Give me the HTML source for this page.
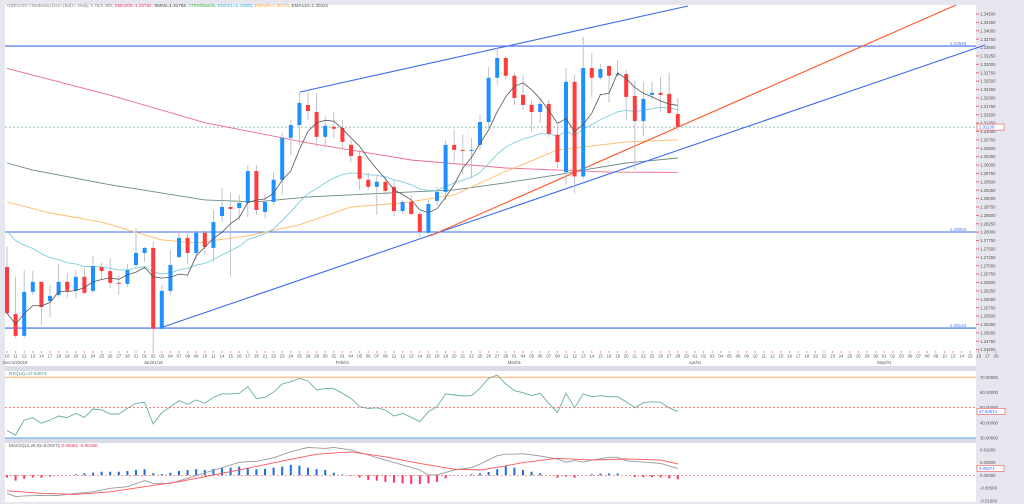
<!DOCTYPE html>
<html><head><meta charset="utf-8"><style>
html,body{margin:0;padding:0;background:#e6e6ee;}
svg{display:block;font-family:"Liberation Sans",sans-serif;}
</style></head><body>
<svg id="c" width="1024" height="504" xmlns="http://www.w3.org/2000/svg">
<rect x="0" y="0" width="1024" height="504" fill="#e6e6ee"/>
<rect x="5" y="5" width="971" height="346" fill="#fff"/>
<rect x="5" y="351" width="971" height="15" fill="#fff"/>
<rect x="5" y="371" width="971" height="67" fill="#fff"/>
<rect x="5" y="443" width="971" height="59" fill="#fff"/>
<rect x="977" y="5" width="47" height="499" fill="#e6e6ee"/>
<g id="main"></g>
<text x="7" y="7" font-size="4.6" fill="#888">GBP/USD &lt;NetDania fxcm (Bid)&gt;, Daily, 4.75/1.360, <tspan fill="#ee3366">SMA200=1.29782</tspan>, <tspan fill="#333">SMA5=1.31762</tspan>, <tspan fill="#44aa44">ATR50Bands</tspan>, <tspan fill="#33aadd">EMA21=1.31662</tspan>, <tspan fill="#ffaa33">EMA55=1.30745</tspan>, <tspan fill="#555">EMA110=1.30221</tspan></text>
<text x="9" y="375" font-size="4.6" fill="#339988">RSI(14)=47.52574</text>
<text x="9" y="447" font-size="4.6" fill="#555">MACD(12,26,9)=0.00271 <tspan fill="#ee2244">0.00451 -0.00180</tspan></text>
</svg>
<script>
// ---- data ----
const openP=[1.2696,1.2556,1.2491,1.2622,1.2652,1.2595,1.2613,1.2652,1.2625,1.2667,1.2625,1.2696,1.2684,1.2649,1.2646,1.2702,1.2738,1.2753,1.2512,1.2625,1.2726,1.2783,1.2738,1.2798,1.2753,1.2848,1.2875,1.2872,1.2887,1.2982,1.2860,1.2890,1.2956,1.3081,1.3119,1.3179,1.3158,1.3084,1.3114,1.3111,1.3060,1.3027,1.2956,1.2935,1.2950,1.2935,1.2863,1.2890,1.2854,1.2798,1.2893,1.2920,1.3060,1.3045,1.3042,1.3060,1.3128,1.3260,1.3319,1.3266,1.3209,1.3179,1.3158,1.3182,1.3090,1.2979,1.3248,1.2966,1.3289,1.3260,1.3295,1.3268,1.3271,1.3206,1.3131,1.3209,1.3215,1.3212,1.3152];
const highP=[1.2756,1.2667,1.2687,1.2684,1.2652,1.2643,1.2705,1.2678,1.2687,1.2693,1.2729,1.2708,1.2723,1.2672,1.2705,1.2813,1.2756,1.2771,1.2643,1.2747,1.2801,1.2801,1.2807,1.2807,1.2866,1.2932,1.2917,1.2911,1.3000,1.3000,1.2911,1.2979,1.3096,1.3134,1.3218,1.3215,1.3215,1.3146,1.3158,1.3134,1.3075,1.3045,1.2979,1.2971,1.2962,1.2956,1.2896,1.2911,1.2860,1.2896,1.2935,1.3075,1.3105,1.3090,1.3081,1.3149,1.3292,1.3352,1.3325,1.3274,1.3268,1.3194,1.3200,1.3194,1.3120,1.3289,1.3268,1.3382,1.3334,1.3301,1.3298,1.3313,1.3283,1.3251,1.3248,1.3248,1.3263,1.3274,1.3200];
const lowP=[1.2553,1.2485,1.2485,1.2613,1.2523,1.2547,1.2607,1.2604,1.2604,1.2616,1.2619,1.2658,1.2634,1.2613,1.2637,1.2693,1.2711,1.2443,1.2509,1.2613,1.2723,1.2705,1.2717,1.2732,1.2711,1.2830,1.2667,1.2836,1.2845,1.2851,1.2842,1.2881,1.2911,1.3030,1.3060,1.3134,1.3054,1.3051,1.3081,1.3045,1.3009,1.2926,1.2926,1.2851,1.2911,1.2848,1.2854,1.2851,1.2786,1.2792,1.2881,1.2896,1.3009,1.2971,1.2962,1.3045,1.3111,1.3239,1.3254,1.3179,1.3164,1.3099,1.3125,1.3084,1.2991,1.2941,1.2915,1.2960,1.3203,1.3254,1.3185,1.3263,1.3134,1.2986,1.3087,1.3194,1.3158,1.3149,1.3105];
const closeP=[1.2559,1.2491,1.2622,1.2652,1.2577,1.2610,1.2652,1.2625,1.2667,1.2619,1.2699,1.2684,1.2649,1.2646,1.2687,1.2738,1.2753,1.2512,1.2625,1.2702,1.2783,1.2738,1.2798,1.2756,1.2830,1.2875,1.2869,1.2887,1.2982,1.2866,1.2890,1.2956,1.3081,1.3119,1.3185,1.3161,1.3084,1.3117,1.3108,1.3069,1.3027,1.2959,1.2935,1.2950,1.2923,1.2863,1.2890,1.2854,1.2801,1.2884,1.2920,1.3060,1.3045,1.3042,1.3045,1.3128,1.3260,1.3319,1.3266,1.3200,1.3179,1.3158,1.3182,1.3093,1.3009,1.3248,1.2966,1.3289,1.3260,1.3286,1.3266,1.3271,1.3203,1.3131,1.3197,1.3215,1.3209,1.3155,1.3114];
const sma200Idx=[0,12,23,35,47,58,70,78];
const sma200Val=[1.3288,1.3208,1.3126,1.3066,1.3015,1.2991,1.2979,1.2978];
const ema110Idx=[0,3,12,23,29,35,47,52,58,64,67,72,78];
const ema110Val=[1.3006,1.2985,1.2941,1.2896,1.2890,1.2905,1.2920,1.2926,1.2947,1.2971,1.2985,1.3006,1.3021];
const ema55Idx=[0,5,11,18,22,28,34,40,46,52,57,64,72,78];
const ema55Val=[1.2890,1.2857,1.2830,1.2777,1.2768,1.2789,1.2822,1.2875,1.2887,1.2911,1.2970,1.3045,1.3069,1.3075];
const ema21Seed=1.2828;
const rsiVal=[34.8,32,41.8,43.4,39.7,41.8,44.5,43.4,46.2,43.6,49.1,48.4,45.8,45.8,49.5,52.8,53.5,39.2,46.7,50.6,54.6,52.2,55,52.8,56.8,59,59,59.4,63.8,55.9,56.8,60.1,65.5,67,69.3,67.5,61.6,62.5,62.5,59.4,56.1,50.6,49.5,49.9,48.4,44.5,46.2,43.6,40.7,47.3,50.6,59,58.3,57.6,57.8,62.7,69.3,71.4,65.5,61.1,59.8,57.8,59.4,52.8,46.7,59.4,49.9,59,57.2,57.8,57.2,57.2,53.9,49.9,53.2,53.9,53.5,49.9,47.5];
const macdIdx=[0,1,2,4,6,8,10,12,14,16,17,19,21,23,25,27,29,31,33,35,37,38,40,42,44,46,48,49,50,52,54,55,57,58,59,60,62,64,65,66,67,68,70,71,72,74,76,78];
const macdVal=[-0.0071,-0.0084,-0.0081,-0.0079,-0.0079,-0.0071,-0.0065,-0.0051,-0.0045,-0.0021,-0.0032,-0.0032,-0.0012,0.0010,0.0030,0.0051,0.0055,0.0069,0.0093,0.0110,0.0106,0.0110,0.0100,0.0080,0.0060,0.0041,0.0021,0.0001,0.0001,0.0021,0.0030,0.0044,0.0077,0.0083,0.0083,0.0085,0.0076,0.0064,0.0052,0.0058,0.0052,0.0060,0.0071,0.0071,0.0057,0.0052,0.0047,0.0027];
const sigIdx=[0,4,8,12,16,20,24,28,32,36,40,44,48,52,55,58,60,64,68,72,76,78];
const sigVal=[-0.0061,-0.0071,-0.0075,-0.0065,-0.0045,-0.0025,0.0001,0.0028,0.0056,0.0083,0.0092,0.0073,0.0047,0.0024,0.0021,0.0037,0.0050,0.0067,0.0060,0.0064,0.0060,0.0045];
const histVal=[-0.0009,-0.0021,-0.0014,-0.0009,-0.0009,-0.0005,0,0,0.0004,0.0008,0.0010,0.0014,0.0014,0.0014,0.0017,0.0021,0.0024,0.0008,0.0005,0.0010,0.0017,0.0021,0.0024,0.0021,0.0025,0.0028,0.0030,0.0034,0.0028,0.0024,0.0025,0.0030,0.0034,0.0041,0.0038,0.0030,0.0024,0.0021,0.0010,0.0003,-0.0002,-0.0009,-0.0018,-0.0021,-0.0026,-0.0029,-0.0032,-0.0034,-0.0034,-0.0032,-0.0026,-0.0012,0,0,0.0004,0.0008,0.0013,0.0024,0.0037,0.0030,0.0021,0.0014,0.0008,0,-0.0009,-0.0005,-0.0009,0,0.0004,0.0007,0.0007,0.0007,0,-0.0007,-0.0007,-0.0007,-0.0008,-0.0012,-0.0016];
const priceTicks=[];for(let v=1.345;v>1.2449;v-=0.0025)priceTicks.push(+v.toFixed(5));
const rsiTicks=[70,60,50,40,30];
const macdTicks=[0.01,0.005,0,-0.005,-0.01];
const hLevels=[1.33545,1.28004,1.25142];
const lastPrice=1.31130;
// ---- axes ----
const X=i=>7+8.6*i;
const Y=p=>14+(1.345-p)*3356;
const RY=v=>438-(v-30)*1.52;
const MY=v=>475.3-v*2540;
const NS='http://www.w3.org/2000/svg';
const main=document.getElementById('main');
function mk(tag,attrs,parent){const e=document.createElementNS(NS,tag);for(const k in attrs)e.setAttribute(k,attrs[k]);(parent||main).appendChild(e);return e;}
function txt(x,y,s,size,fill,anchor){const t=mk('text',{x:x,y:y,'font-size':size,fill:fill,'text-anchor':anchor||'start'});t.textContent=s;return t;}
const dates=[];{let d=new Date(Date.UTC(2018,11,10));while(dates.length<116){const w=d.getUTCDay();if(w>0&&w<6)dates.push(new Date(d));d=new Date(d.getTime()+86400000);}}
dates.forEach((d,i)=>{
 const tk=mk('line',{x1:X(i),x2:X(i),y1:351,y2:353,stroke:'#e88'});
 
 
 const t=txt(X(i),357.5,String(d.getUTCDate()).padStart(2,'0'),4.3,'#555','middle');
 
 
});
const months=[[0,'Dec/10/2018'],[17,'Jan/01/19'],[39,'Feb/01'],[59,'Mar/01'],[80,'Apr/01'],[102,'May/01']];
months.forEach((m,k)=>{const t=txt(k===0?3:X(m[0]),364,m[1],4.3,'#555',k===0?'start':'middle');
 
 });
priceTicks.forEach(v=>{const y=Y(v);
 mk('line',{x1:976,x2:979,y1:y,y2:y,stroke:'#e66'});
 const t=txt(980,y+1.6,v.toFixed(5),4.3,'#555');
 
 });
rsiTicks.forEach(v=>{const t=txt(980,RY(v)+1.6,v.toFixed(5),4.3,'#555');
 
 });
macdTicks.forEach(v=>{const t=txt(980,MY(v)+1.6,v.toFixed(5),4.3,'#555');
 
 });
mk('rect',{x:5,y:366,width:971,height:5,fill:'#dcdce6'});
mk('rect',{x:5,y:438,width:971,height:5,fill:'#dcdce6'});
mk('line',{x1:5,x2:976,y1:438,y2:438,stroke:'#55aaee','stroke-width':1});
hLevels.forEach(v=>{const l=mk('line',{x1:5,x2:976,y1:Y(v),y2:Y(v),stroke:'#3a6cf0','stroke-width':1.1});
 
 
 const t=txt(958,Y(v)-1,v.toFixed(5),4.6,'#5577ee','middle');
 
 });
const lp=mk('line',{x1:5,x2:976,y1:Y(lastPrice),y2:Y(lastPrice),stroke:'#7aa','stroke-dasharray':'2,2','stroke-width':0.8});


const lpb=mk('rect',{x:977,y:Y(lastPrice)-3,width:27,height:6,fill:'#fff',stroke:'#e55','stroke-width':0.6});


txt(979,Y(lastPrice)+1.6,lastPrice.toFixed(5),4.3,'#36f');
function tl(x1,y1,x2,y2,c,name){const l=mk('line',{x1:x1,y1:y1,x2:x2,y2:y2,stroke:c,'stroke-width':1.1});
 
 }
function poly(pts,c,w,name,parent){const p=mk('polyline',{points:pts.map(q=>q[0].toFixed(1)+','+q[1].toFixed(1)).join(' '),fill:'none',stroke:c,'stroke-width':w},parent);
 
 return p;}
poly(sma200Idx.map((k,j)=>[X(k),Y(sma200Val[j])]),'#f06a8a',0.9,'sma200-line');
poly(ema110Idx.map((k,j)=>[X(k),Y(ema110Val[j])]),'#6a8a80',0.9,'ema110-line');
poly(ema55Idx.map((k,j)=>[X(k),Y(ema55Val[j])]),'#ffbb66',0.9,'ema55-line');
const ema21=[];let e=ema21Seed;closeP.forEach(c=>{e=e+(c-e)*2/22;ema21.push(e);});
poly(ema21.map((v,i)=>[X(i),Y(v)]),'#7fcde0',0.9,'ema21-line');
const sma5=closeP.map((c,i)=>{const s=closeP.slice(Math.max(0,i-4),i+1);return s.reduce((a,b)=>a+b,0)/s.length;});
tl(300,92,688,6,'#3a6cf0','upper-channel-line');
tl(160,328,985,45,'#3a6cf0','lower-channel-line');
tl(430,236,956,5,'#ff5522','support-trendline');
closeP.forEach((c,i)=>{const o=openP[i],x=X(i);const up=c>=o;
 const w=mk('line',{x1:x,x2:x,y1:Y(highP[i]),y2:Y(lowP[i]),stroke:'#b8bcc8','stroke-width':0.9});
 
 
 const top=Y(Math.max(o,c)),bot=Y(Math.min(o,c));
 const r=mk('rect',{x:x-2,y:top,width:4,height:Math.max(1,bot-top),fill:up?'#1e90ff':'#ff3b3b'});
 
 
});
poly(sma5.map((v,i)=>[X(i),Y(v)]),'#555',0.8,'sma5-line');
const o70=mk('line',{x1:5,x2:976,y1:RY(70),y2:RY(70),stroke:'#ffaa66','stroke-width':1});


const m50=mk('line',{x1:5,x2:976,y1:RY(50),y2:RY(50),stroke:'#f55','stroke-dasharray':'2,2','stroke-width':0.7});


poly(rsiVal.map((v,i)=>[X(i),RY(v)]),'#6aada0',0.9,'rsi-line');
const rb=mk('rect',{x:977,y:RY(47.5)-3,width:28,height:6,fill:'#fff',stroke:'#e55','stroke-width':0.6});


txt(979,RY(47.5)+1.6,'47.52574',4.3,'#36f');
const z=mk('line',{x1:5,x2:976,y1:MY(0),y2:MY(0),stroke:'#f55','stroke-dasharray':'2,2','stroke-width':0.7});


histVal.forEach((v,i)=>{if(v===0)return;const y0=MY(0),y1=MY(v);
 const b=mk('rect',{x:X(i)-1,y:Math.min(y0,y1),width:2,height:Math.abs(y1-y0),fill:v>0?'#1a70dd':'#ff3366'});
 
 });
poly(macdIdx.map((k,j)=>[X(k),MY(macdVal[j])]),'#999',0.9,'macd-line');
poly(sigIdx.map((k,j)=>[X(k),MY(sigVal[j])]),'#ff5555',0.9,'macd-signal-line');
const mb=mk('rect',{x:977,y:MY(0.00271)-3,width:27,height:6,fill:'#fff',stroke:'#e55','stroke-width':0.6});


txt(979,MY(0.00271)+1.6,'0.00271',4.3,'#36f');
</script>
</body></html>
